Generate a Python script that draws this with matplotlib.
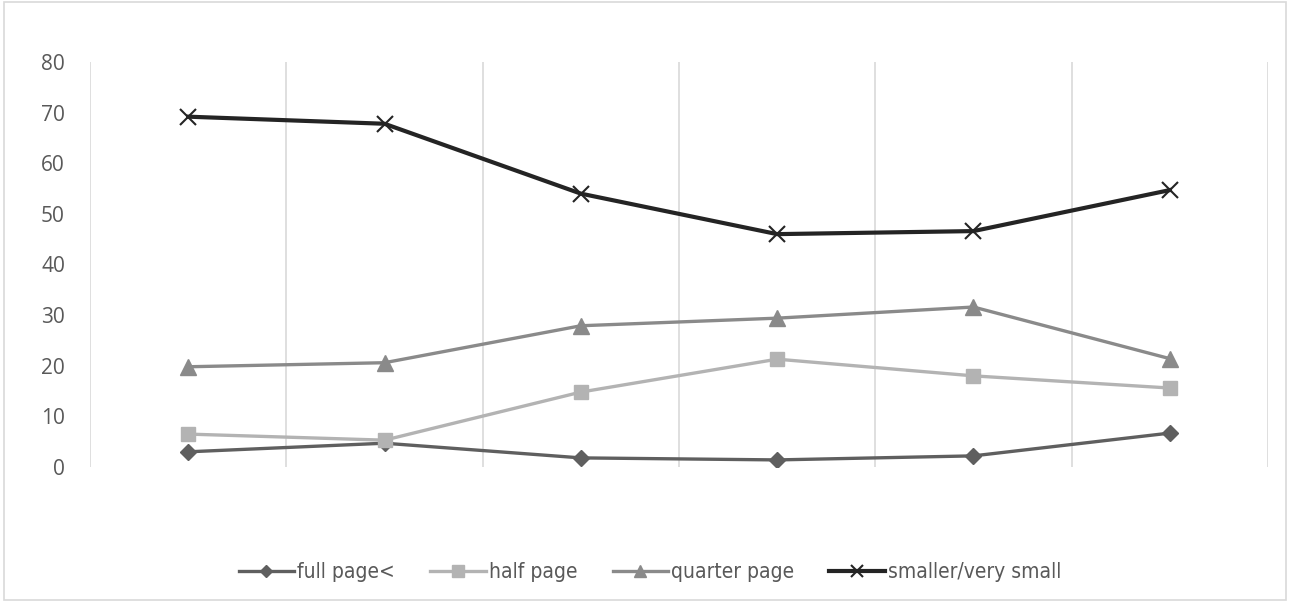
import matplotlib.pyplot as plt
from matplotlib import font_manager

# Share of advertisements by size, six periods
periods = ['1', '2', '3', '4', '5', '6']
full_page = [3.0, 4.7, 1.8, 1.4, 2.2, 6.7]
half_page = [6.5, 5.3, 14.8, 21.3, 18.0, 15.6]
quarter_page = [19.8, 20.6, 27.9, 29.4, 31.6, 21.4]
smaller = [69.2, 67.8, 54.0, 46.0, 46.6, 54.7]

names = {f.name for f in font_manager.fontManager.ttflist}
if 'Liberation Sans Narrow' in names:
    legend_prop = {'family': 'Liberation Sans Narrow', 'size': 16}
else:
    legend_prop = {'family': 'DejaVu Sans', 'stretch': 'condensed', 'size': 15}

fig = plt.figure(figsize=(12.9, 6.02), dpi=100)
ax = fig.add_axes([90 / 1290, 135 / 602, 1178 / 1290, 405 / 602])

x = range(len(periods))
ax.plot(x, full_page, color='#5f5f5f', lw=2.4, marker='D', ms=8, label='full page<')
ax.plot(x, half_page, color='#b3b3b3', lw=2.4, marker='s', ms=10, label='half page')
ax.plot(x, quarter_page, color='#8a8a8a', lw=2.4, marker='^', ms=11, label='quarter page')
ax.plot(x, smaller, color='#242424', lw=3.0, marker='x', ms=11, mew=1.5,
        label='smaller/very small')

ax.set_xlim(-0.5, len(periods) - 0.5)
ax.set_ylim(0, 80)
ax.set_yticks(range(0, 81, 10))
ax.set_xticks([])
for b in range(len(periods) + 1):
    ax.axvline(b - 0.5, color='#d9d9d9', lw=1.2, zorder=0)

for s in ax.spines.values():
    s.set_visible(False)
ax.tick_params(axis='y', length=0, pad=18, labelsize=15, labelcolor='#595959')
for t in ax.get_yticklabels():
    t.set_fontfamily('Open Sans')

leg = fig.legend(loc='center', bbox_to_anchor=(650 / 1290, 1 - 572 / 602), ncol=4,
                 frameon=False, handlelength=2.65, handletextpad=0.15, columnspacing=1.7,
                 markerscale=0.8, prop=legend_prop)
for t in leg.get_texts():
    t.set_color('#595959')

# light border round the whole chart
fig.patches.append(plt.Rectangle((0.003, 0.003), 0.994, 0.994, transform=fig.transFigure,
                                 fill=False, edgecolor='#d9d9d9', lw=1.2))

fig.savefig('out.png', dpi=100)
